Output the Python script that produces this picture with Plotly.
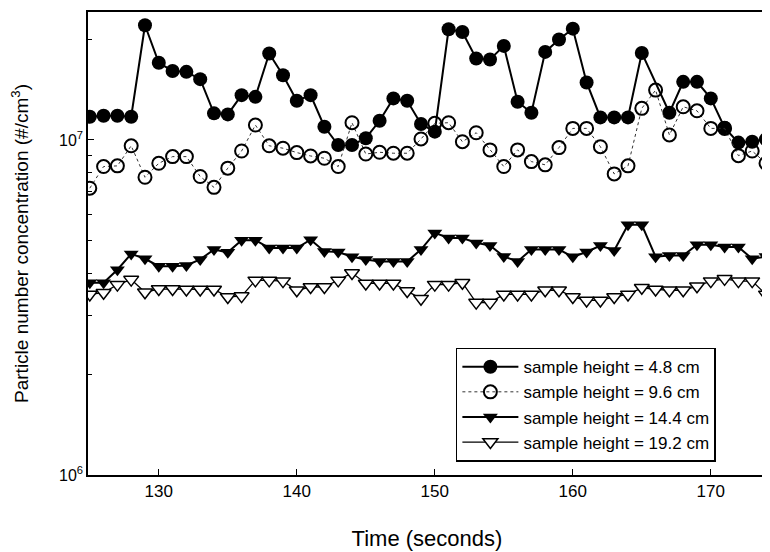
import plotly.graph_objects as go

time_s = list(range(125, 175))

h48 = [1.173e7, 1.181e7, 1.181e7, 1.173e7, 2.20e7, 1.70e7, 1.607e7, 1.597e7, 1.519e7, 1.201e7,
       1.192e7, 1.361e7, 1.345e7, 1.811e7, 1.561e7, 1.309e7, 1.361e7, 1.095e7, 0.966e7, 0.966e7,
       1.012e7, 1.141e7, 1.331e7, 1.309e7, 1.116e7, 1.059e7, 2.14e7, 2.10e7, 1.751e7, 1.738e7,
       1.909e7, 1.300e7, 1.206e7, 1.832e7, 1.994e7, 2.149e7, 1.485e7, 1.168e7, 1.168e7, 1.168e7,
       1.819e7, None, 1.206e7, 1.491e7, 1.491e7, 1.331e7, 1.088e7, 0.982e7, 0.988e7, 1.005e7]

h96 = [7.18e6, 8.33e6, 8.37e6, 9.61e6, 7.74e6, 8.52e6, 8.92e6, 8.92e6, 7.78e6, 7.22e6,
       8.24e6, 9.27e6, 1.108e7, 9.61e6, 9.45e6, 9.17e6, 8.96e6, 8.82e6, 8.33e6, 1.126e7,
       9.08e6, 9.19e6, 9.13e6, 9.13e6, 1.007e7, 1.121e7, 1.126e7, 9.88e6, 1.051e7, 9.34e6,
       8.33e6, 9.34e6, 8.62e6, 8.43e6, 9.49e6, 1.083e7, 1.083e7, 9.55e6, 7.92e6, 8.37e6,
       1.243e7, 1.409e7, 1.035e7, 1.256e7, 1.222e7, 1.083e7, 1.083e7, 8.98e6, 9.27e6, 8.52e6]

h144 = [3.75e6, 3.75e6, 4.10e6, 4.57e6, 4.42e6, 4.20e6, 4.20e6, 4.22e6, 4.40e6, 4.71e6,
        4.62e6, 5.02e6, 5.02e6, 4.76e6, 4.76e6, 4.76e6, 5.04e6, 4.65e6, 4.63e6, 4.48e6,
        4.40e6, 4.34e6, 4.34e6, 4.34e6, 4.71e6, 5.28e6, 5.10e6, 5.10e6, 4.93e6, 4.84e6,
        4.49e6, 4.34e6, 4.71e6, 4.71e6, 4.71e6, 4.48e6, 4.63e6, 4.84e6, 4.68e6, 5.58e6,
        5.58e6, 4.48e6, 4.52e6, 4.52e6, 4.87e6, 4.87e6, 4.79e6, 4.79e6, 4.42e6, 4.49e6]

h192 = [3.46e6, 3.50e6, 3.70e6, 3.83e6, 3.51e6, 3.59e6, 3.59e6, 3.58e6, 3.58e6, 3.58e6,
        3.40e6, 3.42e6, 3.81e6, 3.81e6, 3.79e6, 3.56e6, 3.64e6, 3.64e6, 3.81e6, 4.01e6,
        3.73e6, 3.73e6, 3.73e6, 3.54e6, 3.36e6, 3.70e6, 3.70e6, 3.75e6, 3.27e6, 3.27e6,
        3.46e6, 3.46e6, 3.46e6, 3.56e6, 3.56e6, 3.40e6, 3.32e6, 3.32e6, 3.40e6, 3.46e6,
        3.62e6, 3.58e6, 3.56e6, 3.56e6, 3.66e6, 3.79e6, 3.85e6, 3.79e6, 3.79e6, 3.46e6]

names = ["sample height = 4.8 cm", "sample height = 9.6 cm",
         "sample height = 14.4 cm", "sample height = 19.2 cm"]

x_ticks = [130, 140, 150, 160, 170]
y_ticks = [1e6, 1e7]
y_ticktext = ["10<sup>6</sup>", "10<sup>7</sup>"]
y_minor = [2e6, 3e6, 4e6, 5e6, 6e6, 7e6, 8e6, 9e6, 2e7]

fig = go.Figure()
fig.add_trace(go.Scatter(x=time_s, y=h48, name=names[0], mode="lines+markers", connectgaps=True,
                         line=dict(color="black", width=2),
                         marker=dict(symbol="circle", size=14, color="black")))
fig.add_trace(go.Scatter(x=time_s, y=h96, name=names[1], mode="lines+markers",
                         line=dict(color="#333333", width=1, dash="dot"),
                         marker=dict(symbol="circle-open", size=13, color="black", line=dict(width=2))))
fig.add_trace(go.Scatter(x=time_s, y=h144, name=names[2], mode="lines+markers",
                         line=dict(color="black", width=2),
                         marker=dict(symbol="triangle-down", size=13, color="black")))
fig.add_trace(go.Scatter(x=time_s, y=h192, name=names[3], mode="lines+markers",
                         line=dict(color="black", width=1.3),
                         marker=dict(symbol="triangle-down", size=13, color="white",
                                     line=dict(color="black", width=1.5))))

font_family = "Arial, Liberation Sans, Helvetica, sans-serif"
fig.update_layout(
    width=762, height=544,
    margin=dict(l=80, r=2, t=3, b=77),
    paper_bgcolor="white", plot_bgcolor="white",
    font=dict(family=font_family, color="black", size=17),
    showlegend=True,
    legend=dict(x=0.5426, y=0.275, xanchor="left", yanchor="top",
                bordercolor="black", borderwidth=1.5, bgcolor="white",
                font=dict(size=17, family=font_family), tracegroupgap=0,
                itemwidth=56),
    xaxis=dict(range=[124.87, 174.0], tickvals=x_ticks, ticks="inside", ticklen=6,
               tickwidth=1.2, tickcolor="black",
               showline=True, linecolor="black", linewidth=1.5, mirror=True,
               showgrid=False, zeroline=False,
               title=dict(text="Time (seconds)", font=dict(size=22), standoff=30),
               tickfont=dict(size=17)),
    yaxis=dict(type="log", range=[6.0, 7.382], tickvals=y_ticks, ticktext=y_ticktext,
               ticks="inside", ticklen=6, tickwidth=1.2, tickcolor="black",
               minor=dict(tickvals=y_minor, ticks="inside", ticklen=4, tickcolor="black", showgrid=False),
               showline=True, linecolor="black", linewidth=1.5, mirror=True,
               showgrid=False, zeroline=False,
               title=dict(text="Particle number concentration (#/cm<sup>3</sup>)", font=dict(size=19), standoff=28),
               tickfont=dict(size=16)),
)

fig.write_html("out.html")
